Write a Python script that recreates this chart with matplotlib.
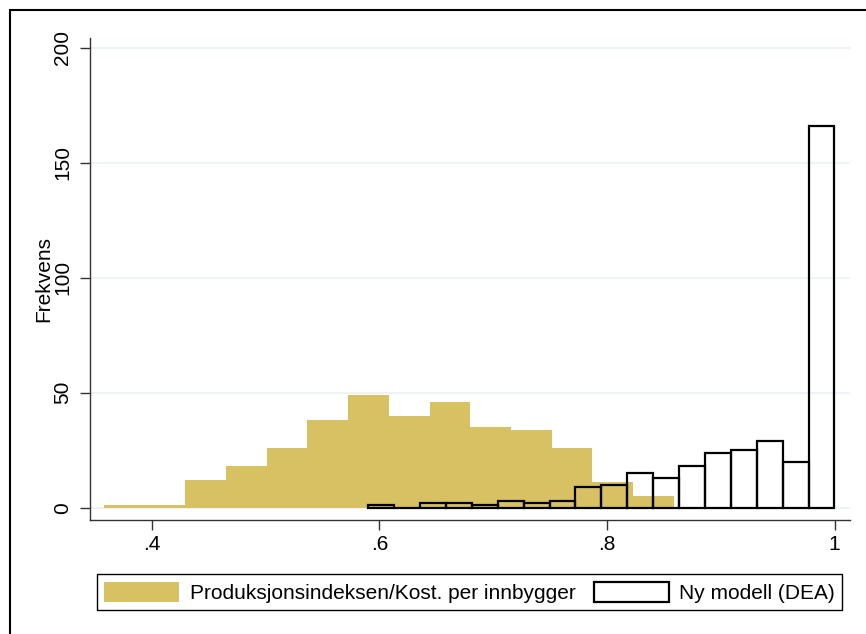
import matplotlib
matplotlib.use("Agg")
import matplotlib.pyplot as plt
import numpy as np
from matplotlib.patches import Patch, Rectangle

# Produksjonsindeksen/Kost. per innbygger
prod_start = 0.3578
prod_width = 0.03578
prod_counts = [1, 1, 12, 18, 26, 38, 49, 40, 46, 35, 34, 26, 11, 5]

# Ny modell (DEA)
dea_start = 0.5901
dea_width = 0.02277
dea_counts = [1, 0, 2, 2, 1, 3, 2, 3, 9, 10, 15, 13, 18, 24, 25, 29, 20, 166]

x_ticks = [0.4, 0.6, 0.8, 1.0]
x_labels = [".4", ".6", ".8", "1"]
y_ticks = [0, 50, 100, 150, 200]

label_prod = "Produksjonsindeksen/Kost. per innbygger"
label_dea = "Ny modell (DEA)"

sand = "#d8c163"
grid_color = "#eaf2f3"


def main():
    plt.rcParams["font.family"] = ["Liberation Sans", "DejaVu Sans"]
    fig = plt.figure(figsize=(8.66, 6.34), dpi=100)
    ax = fig.add_axes([0.1039, 0.1798, 0.8776, 0.7602])

    prod_edges = prod_start + prod_width * np.arange(len(prod_counts))
    dea_edges = dea_start + dea_width * np.arange(len(dea_counts))

    ax.bar(prod_edges, prod_counts, width=prod_width, align="edge",
           color=sand, linewidth=0, zorder=2)
    ax.bar(dea_edges, dea_counts, width=dea_width, align="edge",
           facecolor="none", edgecolor="black", linewidth=1.6, zorder=3)

    ax.set_xlim(0.3455, 1.0136)
    ax.set_ylim(-5.35, 204.2)
    ax.set_xticks(x_ticks)
    ax.set_xticklabels(x_labels, fontsize=15)
    ax.set_yticks(y_ticks)
    ax.set_yticklabels([str(v) for v in y_ticks], fontsize=15,
                       rotation=90, va="center")
    ax.tick_params(axis="both", length=7, width=1, color="#333333")
    ax.tick_params(axis="x", pad=4)
    ax.tick_params(axis="y", pad=6)
    ax.yaxis.grid(True, color=grid_color, linewidth=1.2, zorder=0)
    ax.set_axisbelow(True)
    for side in ["top", "right"]:
        ax.spines[side].set_visible(False)
    for side in ["left", "bottom"]:
        ax.spines[side].set_color("#333333")
        ax.spines[side].set_linewidth(1)
    ax.set_ylabel("Frekvens", fontsize=15, labelpad=0)

    handles = [
        Patch(facecolor=sand, edgecolor="none", label=label_prod),
        Patch(facecolor="white", edgecolor="black", linewidth=1.6,
              label=label_dea),
    ]
    fig.legend(handles=handles, ncol=2, loc="lower left",
               bbox_to_anchor=(97 / 866, 1 - 610 / 634, 745 / 866, 40 / 634),
               mode="expand", fontsize=15, frameon=True, fancybox=False,
               edgecolor="black", framealpha=1, borderpad=0.35,
               handlelength=3.6, handleheight=1.1, handletextpad=0.5,
               columnspacing=0.3, borderaxespad=0)

    fig.patches.append(Rectangle((10 / 866, -0.1), 1.2, 1 - 10 / 634 + 0.1,
                                 transform=fig.transFigure, fill=False,
                                 edgecolor="black", linewidth=1.5))

    fig.savefig("out.png", dpi=100)


if __name__ == "__main__":
    main()
